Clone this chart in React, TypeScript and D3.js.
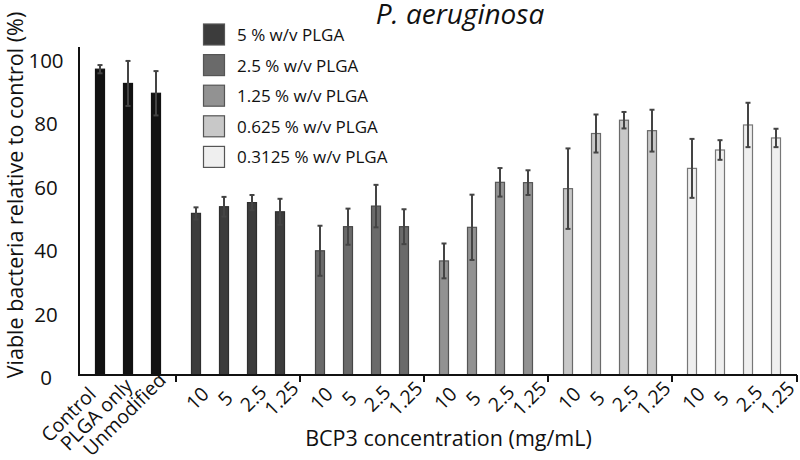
import React from "react";
import * as d3 from "d3";

const controlLabels = ["Control", "PLGA only", "Unmodified"];
const controlValues = [96.5, 92.0, 88.9];
const controlErrors = [1.3, 7.1, 7.0];

const concLabels = ["10", "5", "2.5", "1.25"];
const seriesNames = [
  "5 % w/v PLGA",
  "2.5 % w/v PLGA",
  "1.25 % w/v PLGA",
  "0.625 % w/v PLGA",
  "0.3125 % w/v PLGA",
];
const plga5Values = [51.0, 53.1, 54.4, 51.5];
const plga5Errors = [1.9, 3.1, 2.4, 4.1];
const plga25Values = [39.2, 46.8, 53.3, 46.8];
const plga25Errors = [7.9, 5.7, 6.7, 5.5];
const plga125Values = [36.0, 46.6, 60.8, 60.7];
const plga125Errors = [5.5, 10.3, 4.5, 3.9];
const plga0625Values = [58.8, 76.2, 80.4, 77.1];
const plga0625Errors = [12.7, 6.0, 2.6, 6.6];
const plga03125Values = [65.2, 71.0, 78.9, 74.8];
const plga03125Errors = [9.3, 3.1, 7.0, 2.9];

const yTicks = [0, 20, 40, 60, 80, 100];

const seriesValues = [plga5Values, plga25Values, plga125Values, plga0625Values, plga03125Values];
const seriesErrors = [plga5Errors, plga25Errors, plga125Errors, plga0625Errors, plga03125Errors];
const seriesFill = ["#3c3c3c", "#6a6a6a", "#929292", "#c8c8c8", "#efefef"];
const seriesStroke = ["#2e2e2e", "#454545", "#555555", "#6a6a6a", "#777777"];

type Bar = { label: string; value: number; err: number; slot: number; fill: string; stroke: string; control: boolean };

const GAP = 12 / 28;

export default function App() {
  const W = 800;
  const H = 460;
  const font = "'Open Sans', 'Noto Sans', sans-serif";

  const bars: Bar[] = [];
  let idx = 0;
  controlLabels.forEach((l, i) => {
    bars.push({ label: l, value: controlValues[i], err: controlErrors[i], slot: idx, fill: "#121212", stroke: "#121212", control: true });
    idx++;
  });
  const boundaries: number[] = [];
  seriesValues.forEach((vals, g) => {
    boundaries.push(idx - 1 + g * GAP + (1 + GAP) / 2);
    vals.forEach((v, i) => {
      bars.push({
        label: concLabels[i],
        value: v,
        err: seriesErrors[g][i],
        slot: idx + (g + 1) * GAP,
        fill: seriesFill[g],
        stroke: seriesStroke[g],
        control: false,
      });
      idx++;
    });
  });
  const lastSlot = idx - 1 + seriesValues.length * GAP;
  const x = d3.scaleLinear().domain([-0.75, lastSlot + 0.75]).range([79, 797]);
  const y = d3.scaleLinear().domain([0, 103.5]).range([375, 47]);
  const bw = 9;

  return (
    <svg width={W} height={H} style={{ position: "absolute", left: 0, top: 0, background: "#fff" }} fontFamily={font}>
      {/* title */}
      <text x={460} y={24} textAnchor="middle" fontSize={28} fontStyle="italic" fill="#111">
        P. aeruginosa
      </text>

      {/* bars */}
      {bars.map((b, i) => (
        <g key={i}>
          <rect
            x={x(b.slot) - bw / 2}
            y={y(b.value)}
            width={bw}
            height={y(0) - y(b.value)}
            fill={b.fill}
            stroke={b.stroke}
            strokeWidth={1.2}
          />
          <line x1={x(b.slot)} x2={x(b.slot)} y1={y(b.value + b.err)} y2={y(b.value - b.err)} stroke="#444" strokeWidth={2} />
          <line x1={x(b.slot) - 2.5} x2={x(b.slot) + 2.5} y1={y(b.value + b.err)} y2={y(b.value + b.err)} stroke="#444" strokeWidth={2} />
          <line x1={x(b.slot) - 2.5} x2={x(b.slot) + 2.5} y1={y(b.value - b.err)} y2={y(b.value - b.err)} stroke="#444" strokeWidth={2} />
          <text
            transform={
              b.control
                ? `translate(${x(b.slot) - 32},${414}) rotate(-45)`
                : `translate(${x(b.slot) + 1},${398}) rotate(-45)`
            }
            textAnchor="middle"
            dominantBaseline="central"
            fontSize={19.5}
            fill="#111"
          >
            {b.label}
          </text>
        </g>
      ))}

      {/* axes */}
      <line x1={79} x2={79} y1={y.range()[1]} y2={y(0)} stroke="#111" strokeWidth={2} />
      <line x1={78} x2={x.range()[1]} y1={y(0)} y2={y(0)} stroke="#111" strokeWidth={2} />
      {[...boundaries, lastSlot + 0.75].map((s, i) => (
        <line key={i} x1={x(s)} x2={x(s)} y1={y(0)} y2={y(0) + 7} stroke="#111" strokeWidth={2} />
      ))}
      {yTicks.map((t) => (
        <text key={t} x={46} y={y(t) + 2} textAnchor="middle" dominantBaseline="central" fontSize={20.5} fill="#111">
          {t}
        </text>
      ))}

      {/* axis titles */}
      <text transform={`translate(14,195) rotate(-90)`} textAnchor="middle" dominantBaseline="central" fontSize={21.5} fill="#111">
        Viable bacteria relative to control (%)
      </text>
      <text x={448.5} y={446} textAnchor="middle" fontSize={21.5} fill="#111">
        BCP3 concentration (mg/mL)
      </text>

      {/* legend */}
      {seriesNames.map((n, i) => (
        <g key={n}>
          <rect x={203.5} y={24 + i * 30.6} width={21} height={21} fill={seriesFill[i]} stroke="#555" strokeWidth={1.2} />
          <text x={237} y={34.5 + i * 30.6} dominantBaseline="central" fontSize={17} fill="#111">
            {n}
          </text>
        </g>
      ))}
    </svg>
  );
}
